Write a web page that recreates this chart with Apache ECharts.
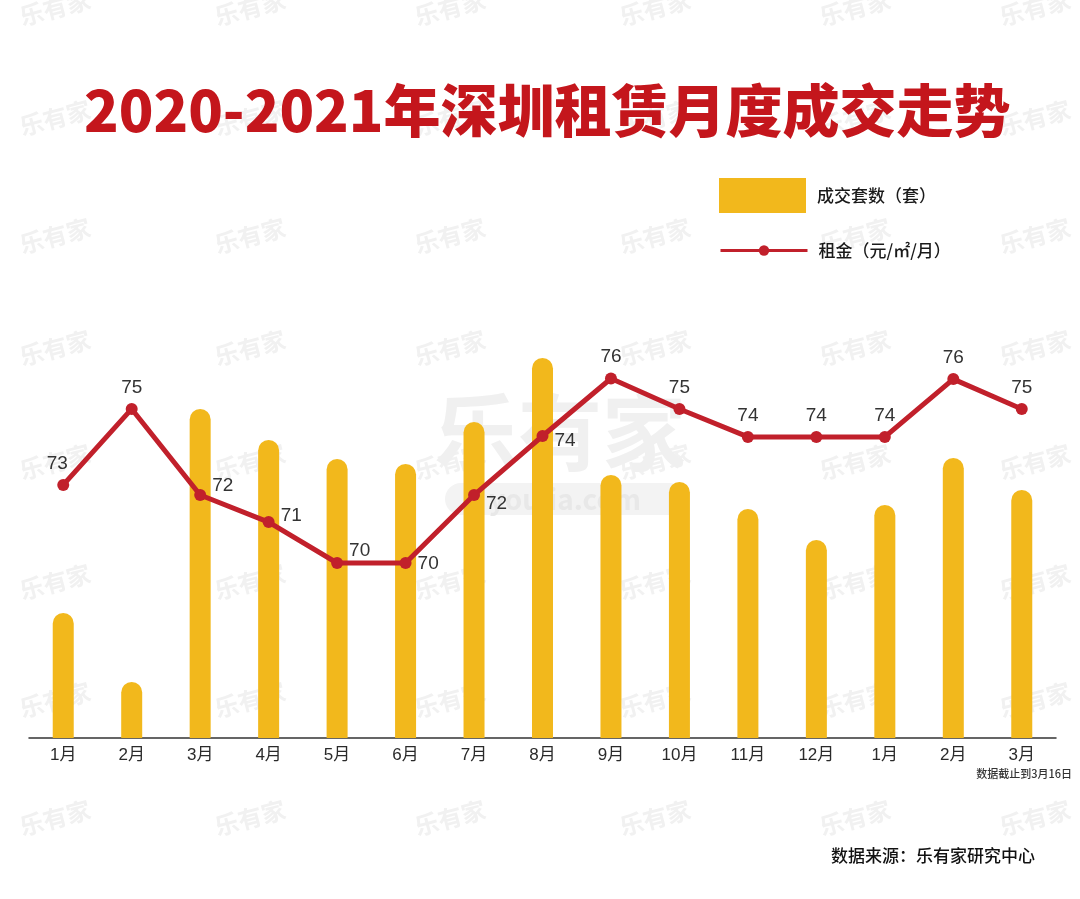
<!DOCTYPE html>
<html>
<head>
<meta charset="utf-8">
<script src="https://cdn.jsdelivr.net/npm/echarts@6/dist/echarts.min.js"></script>
<style>
html,body{margin:0;padding:0;background:#fff;}
#main{width:1080px;height:899px;}
</style>
</head>
<body>
<div id="main"></div>
<script>
// ---- data ----
var months = ['1月','2月','3月','4月','5月','6月','7月','8月','9月','10月','11月','12月','1月','2月','3月'];
// 成交套数 (relative heights; no axis given)
var deals = [125, 56, 329, 298, 279, 274, 316, 380, 263, 256, 229, 198, 233, 280, 248];
// 租金 (元/㎡/月), estimated from point positions; labels show rounded values
var rent = [72.54, 75.01, 72.21, 71.33, 70.0, 70.0, 72.21, 74.13, 76.0, 75.01, 74.1, 74.1, 74.1, 75.98, 75.01];
var barName = '成交套数（套）';
var lineName = '租金（元/㎡/月）';
var titleText = '2020-2021年深圳租赁月度成交走势';
var noteText = '数据截止到3月16日';
var sourceText = '数据来源：乐有家研究中心';

// ---- label placement (style only) ----
var labelPos = ['top','top','right','right','right','right','right','right','top','top','top','top','top','top','top'];
var labelOff = [[-6,0],[0,0],[0,-9],[0,-6],[0,-12],[0,1],[0,9],[0,5],[0,0],[0,0],[0,0],[0,0],[0,0],[0,0],[0,0]];

var FONT = '"Noto Sans CJK SC", "Noto Sans", sans-serif';
var NUMFONT = '"Liberation Sans", "Noto Sans CJK SC", sans-serif';
var chart = echarts.init(document.getElementById('main'), null, {renderer:'canvas'});

var wm = [];
var wx = [55, 250, 450, 655, 855, 1035];
var wy = [8, 118, 236, 348, 462, 582, 700, 818];
for (var i = 0; i < wx.length; i++) {
  for (var j = 0; j < wy.length; j++) {
    wm.push({type:'text', x: wx[i], y: wy[j], rotation: 0.26, z: -10,
      style:{text:'乐有家', font:'bold 24px ' + FONT, fill:'#f1f1f1', textAlign:'center', textVerticalAlign:'middle'}});
  }
}
wm.push({type:'text', x: 560, y: 432, z: -10,
  style:{text:'乐有家', font:'bold 84px ' + FONT, fill:'#f0f0f0', textAlign:'center', textVerticalAlign:'middle'}});
wm.push({type:'rect', shape:{x:445, y:483, width:240, height:32, r:16}, z:-10, style:{fill:'#f3f3f3'}});
wm.push({type:'text', x: 565, y: 499, z: -9,
  style:{text:'youjia.com', font:'bold 28px ' + FONT, fill:'#e8e8e8', textAlign:'center', textVerticalAlign:'middle'}});

var option = {
  backgroundColor: '#ffffff',
  animation: false,
  textStyle: {fontFamily: FONT},
  title: {
    text: titleText,
    left: 79,
    top: 77,
    textStyle: {fontFamily: FONT, fontSize: 57, fontWeight: 900, color: '#C4161C'}
  },
  legend: [
    {
      data: [barName], left: 714, top: 173, orient: 'vertical',
      icon: 'rect', itemWidth: 87, itemHeight: 35,
      textStyle: {fontSize: 17, color: '#1a1a1a', fontWeight: 500, padding:[0,0,0,6]}
    },
    {
      data: [lineName], left: 714, top: 237, orient: 'vertical',
      itemWidth: 87, itemHeight: 13,
      lineStyle: {width: 3},
      textStyle: {fontSize: 17, color: '#1a1a1a', fontWeight: 500, padding:[0,0,0,6]}
    }
  ],
  grid: {left: 29, right: 24, top: 338, bottom: 161, containLabel: false},
  xAxis: {
    type: 'category',
    data: months,
    boundaryGap: true,
    axisLine: {show: true, lineStyle: {color: '#333', width: 1.5}},
    axisTick: {show: false},
    axisLabel: {fontSize: 17, color: '#2a2a2a', margin: 9, fontFamily: NUMFONT}
  },
  yAxis: [
    {type: 'value', min: 0, max: 400, show: false, splitLine: {show: false}},
    {type: 'value', min: 64.309, max: 77.317, show: false, splitLine: {show: false}}
  ],
  series: [
    {
      name: barName,
      type: 'bar',
      yAxisIndex: 0,
      data: deals,
      barWidth: 21,
      itemStyle: {color: '#F2B81C', borderRadius: [11, 11, 0, 0]},
      z: 2
    },
    {
      name: lineName,
      type: 'line',
      yAxisIndex: 1,
      data: rent.map(function (v, k) {
        return {value: v, label: {position: labelPos[k], offset: labelOff[k]}};
      }),
      symbol: 'circle',
      symbolSize: 12,
      lineStyle: {color: '#C1202B', width: 5},
      itemStyle: {color: '#C1202B'},
      label: {
        show: true,
        fontSize: 19,
        fontFamily: NUMFONT,
        color: '#333',
        distance: 6,
        formatter: function (p) { return Math.round(p.value); }
      },
      z: 3
    }
  ],
  graphic: wm.concat([
    {type:'text', right: 8, top: 768, style:{text: noteText, font: '500 11px ' + FONT, fill:'#333'}},
    {type:'text', right: 45, top: 847, style:{text: sourceText, font: '500 17px ' + FONT, fill:'#111'}}
  ])
};
chart.setOption(option);
</script>
</body>
</html>
